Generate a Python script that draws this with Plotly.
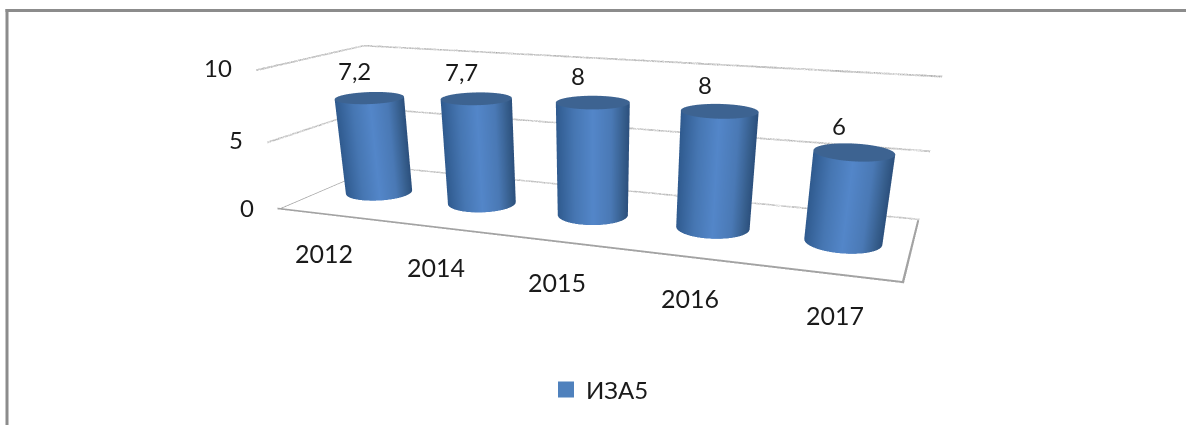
import numpy as np
import plotly.graph_objects as go

categories = ["2012", "2014", "2015", "2016", "2017"]
values = [7.2, 7.7, 8, 8, 6]
value_labels = ["7,2", "7,7", "8", "8", "6"]
series_name = "ИЗА5"
z_ticks = [0, 5, 10]

W = 1186
HS = 800   # taller gl viewport gives the weak perspective of the reference; page is cropped to the window
EYE = [2.4105, -6.4810, 1.5414]
CENTER = [0.2558, -0.6844, -1.6516]
UP = [-0.0009, -0.0065, 1.0]
AX, AY, AZ = 4.5069, 1.3780, 1.0
EXT = 0.6
SHIFT = EXT / 2 * AY

R_X = 0.285
R_Y = R_X * (AX / len(categories)) / AY
DEPTH = 0.5
BLUE_SCALE = [[0, "#2f5a8e"], [0.25, "#4676b2"], [0.5, "#5386c9"], [0.75, "#4a79b5"], [0.9, "#38608f"], [1, "#2b4f7c"]]
CAP = "#3d6391"
GRID = "#a3a3a3"
FONT = "Lato, 'Noto Sans', sans-serif"
TXT = "#1a1a1a"
FLAT = dict(ambient=1, diffuse=0, specular=0, fresnel=0)

fig = go.Figure()
theta = np.linspace(0, 2 * np.pi, 145)
for i, v in enumerate(values):
    tx = i + R_X * np.cos(theta)
    ty = DEPTH + R_Y * np.sin(theta)
    X = np.vstack([tx, tx]); Y = np.vstack([ty, ty])
    Z = np.vstack([np.zeros_like(tx), np.full_like(tx, v)])
    vx = EYE[0] - ((i + 0.5) / len(categories) - 0.5) * AX
    vy = EYE[1]
    n = np.hypot(vx, vy)
    right = np.array([-vy, vx]) / n
    s = np.cos(theta) * right[0] + np.sin(theta) * right[1]
    shade = np.vstack([s, s])
    fig.add_trace(go.Surface(x=X, y=Y, z=Z, surfacecolor=shade, cmin=-1, cmax=1, colorscale=BLUE_SCALE,
                             showscale=False, hoverinfo="skip", lighting=FLAT))
    rr = np.array([0, 1.0])
    capx = i + np.outer(rr, R_X * np.cos(theta))
    capy = DEPTH + np.outer(rr, R_Y * np.sin(theta))
    fig.add_trace(go.Surface(x=capx, y=capy, z=np.full_like(capx, v), surfacecolor=np.zeros_like(capx),
                             cmin=-1, cmax=1, colorscale=[[0, CAP], [1, CAP]], showscale=False,
                             hoverinfo="skip", lighting=FLAT))

x0, x1 = -0.5, len(categories) - 0.5
TZ, TX = 0.13, 0.016

def ribbon(a, b, d):
    a, b, d = map(np.array, (a, b, d))
    P = np.array([[a, b], [a + d, b + d]], dtype=float)
    fig.add_trace(go.Surface(x=P[:, :, 0], y=P[:, :, 1], z=P[:, :, 2], surfacecolor=np.zeros((2, 2)),
                             cmin=-1, cmax=1, colorscale=[[0, GRID], [1, GRID]], showscale=False,
                             hoverinfo="skip", lighting=FLAT))

ribbon((x0, 0, 0), (x1, 0, 0), (0, 0, TZ))
ribbon((x0, 1, 0), (x1, 1, 0), (0, 0, TZ))
ribbon((x0, 0, 0), (x0, 1, 0), (TX, 0, 0))
ribbon((x1, 0, 0), (x1, 1, 0), (-TX, 0, 0))
for t in z_ticks[1:]:
    ribbon((x0, 1, t - TZ), (x1, 1, t - TZ), (0, 0, TZ))
    ribbon((x0, 0, t - TZ), (x0, 1, t - TZ), (0, 0, TZ))

fig.add_trace(go.Scatter3d(x=[None], y=[None], z=[None], mode="markers", name=series_name,
                           marker=dict(symbol="square", size=16, color="#4f81bd"), showlegend=True))

ann = []
for i, (c, l, v) in enumerate(zip(categories, value_labels, values)):
    ann.append(dict(x=i, y=DEPTH, z=v, text=l, showarrow=False, xshift=-15, yshift=27,
                    font=dict(family=FONT, size=24, color=TXT)))
    ann.append(dict(x=i, y=-0.15, z=0, text=c, showarrow=False, xshift=12, yshift=-30,
                    font=dict(family=FONT, size=25, color=TXT)))
for t in z_ticks:
    ann.append(dict(x=x0, y=0, z=t, text=str(t), showarrow=False, xanchor="right", xshift=-22, yshift=2,
                    font=dict(family=FONT, size=24, color=TXT)))

hidden = dict(visible=False, showgrid=False, zeroline=False, showticklabels=False, showspikes=False)
fig.update_layout(
    width=W, height=HS, margin=dict(l=0, r=0, t=0, b=0), paper_bgcolor="white",
    showlegend=True,
    legend=dict(x=600 / W, y=1 - 390 / HS, xanchor="center", yanchor="middle", bgcolor="rgba(0,0,0,0)",
                font=dict(family=FONT, size=24, color=TXT)),
    scene=dict(
        domain=dict(x=[0, 1], y=[0, 1]),
        xaxis=dict(range=[x0, x1], **hidden),
        yaxis=dict(range=[-EXT, 1], **hidden),
        zaxis=dict(range=[0, 10], **hidden),
        aspectmode="manual", aspectratio=dict(x=AX, y=AY * (1 + EXT), z=AZ),
        camera=dict(eye=dict(x=EYE[0], y=EYE[1] + SHIFT, z=EYE[2]),
                    center=dict(x=CENTER[0], y=CENTER[1] + SHIFT, z=CENTER[2]),
                    up=dict(x=UP[0], y=UP[1], z=UP[2])),
        annotations=ann, bgcolor="rgba(0,0,0,0)",
    ),
    shapes=[
        dict(type="line", xref="paper", yref="paper", x0=5.5 / W, x1=1, y0=1 - 10.5 / HS, y1=1 - 10.5 / HS,
             line=dict(color="#8c8c8c", width=3)),
        dict(type="line", xref="paper", yref="paper", x0=7 / W, x1=7 / W, y0=0, y1=1 - 9 / HS,
             line=dict(color="#8c8c8c", width=3)),
    ],
)
fig.write_html("out.html", config=dict(displayModeBar=False),
               post_script="document.body.style.margin='0';document.documentElement.style.overflow='hidden';document.body.style.overflow='hidden';")
